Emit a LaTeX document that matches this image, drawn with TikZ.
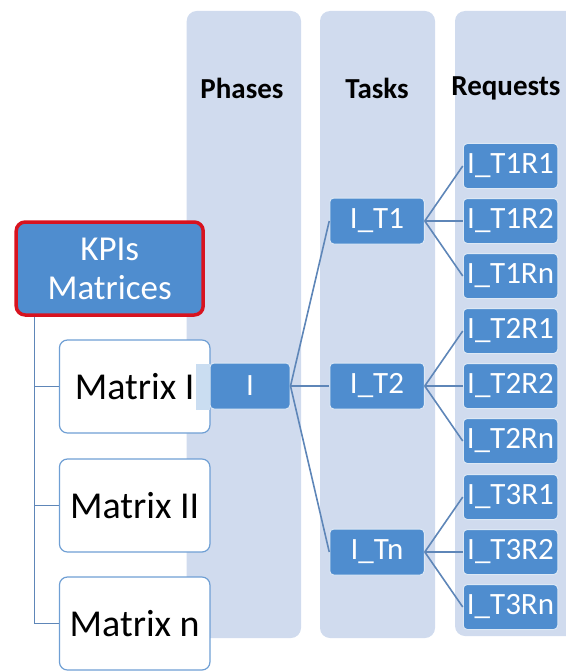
\documentclass[tikz,border=0pt]{standalone}
\usepackage{fontspec}
\setmainfont{Carlito}

\definecolor{lanefill}{HTML}{D0DBEE}
\definecolor{boxblue}{HTML}{4F8DCF}
\definecolor{linkblue}{HTML}{5E86B8}
\definecolor{kpired}{HTML}{D8131F}
\definecolor{matline}{HTML}{6F9FD4}

\tikzset{
  lane/.style={fill=lanefill, rounded corners=10pt},
  head/.style={font=\bfseries\fontsize{29}{32}\selectfont},
  bluebox/.style={fill=boxblue, draw=white!80!boxblue, line width=1pt,
    rounded corners=4pt, text=white, inner sep=0pt,
    minimum width=94.5pt, minimum height=45pt,
    font=\fontsize{31}{33}\selectfont},
  matbox/.style={fill=white, draw=matline, line width=1.2pt,
    rounded corners=8pt, inner sep=0pt,
    minimum width=150.5pt, minimum height=93pt,
    font=\fontsize{38}{40}\selectfont},
  kpibox/.style={fill=boxblue, draw=kpired, line width=3.5pt,
    rounded corners=9pt, text=white, align=center, inner sep=0pt,
    minimum width=187pt, minimum height=93pt,
    font=\fontsize{35}{39}\selectfont},
  link/.style={draw=linkblue, line width=1.6pt}
}

\begin{document}
\begin{tikzpicture}[x=1pt, y=-1pt]
  \useasboundingbox (0,0) rectangle (565,671);

  % the three lanes
  \fill[lane] (186.7,11) rectangle (301,638);
  \fill[lane] (320,11) rectangle (435,638);
  \fill[lane] (455,11) rectangle (590,636);
  \node[head] (hph) at (242,88) {Phases};
  \node[head] (hta) at (377,88) {Tasks};
  \node[head, anchor=east] (hre) at (564,88) {Requests};

  % matrices on the left
  \node[kpibox] (kpi) at (109.7,268.5) {KPIs\\Matrices};
  \node[matbox] (m1) at (134.7,386.5) {Matrix I};
  \node[matbox] (m2) at (134.7,505.5) {Matrix II};
  \node[matbox] (mn) at (134.7,623.5) {Matrix n};
  \foreach \m in {m1, m2, mn}
    \draw[link] ([xshift=20pt]kpi.south west) |- (\m.west);

  % phase -> tasks -> requests
  \node[bluebox, minimum width=80pt, minimum height=46pt] (ph) at (250,386) {I};
  \fill[boxblue!30] (196,363.5) rectangle (ph.south west); % faded tail of the phase box
  \node[bluebox, minimum height=46pt] (t1) at (377,221) {I\_T1};
  \node[bluebox, minimum height=46pt] (t2) at (377,386) {I\_T2};
  \node[bluebox, minimum height=46pt] (t3) at (377,552) {I\_Tn};

  \foreach \k/\ty in {1/221, 2/386, 3/552} {
    \draw[link] (ph.east) -- (t\k.west);
    \foreach \r/\dy in {1/-55, 2/0, n/55} {
      \node[bluebox] (r\k\r) at (510.5,{\ty+\dy}) {I\_T\k R\r};
      \draw[link] (t\k.east) -- (r\k\r.west);
    }
  }
\end{tikzpicture}
\end{document}
